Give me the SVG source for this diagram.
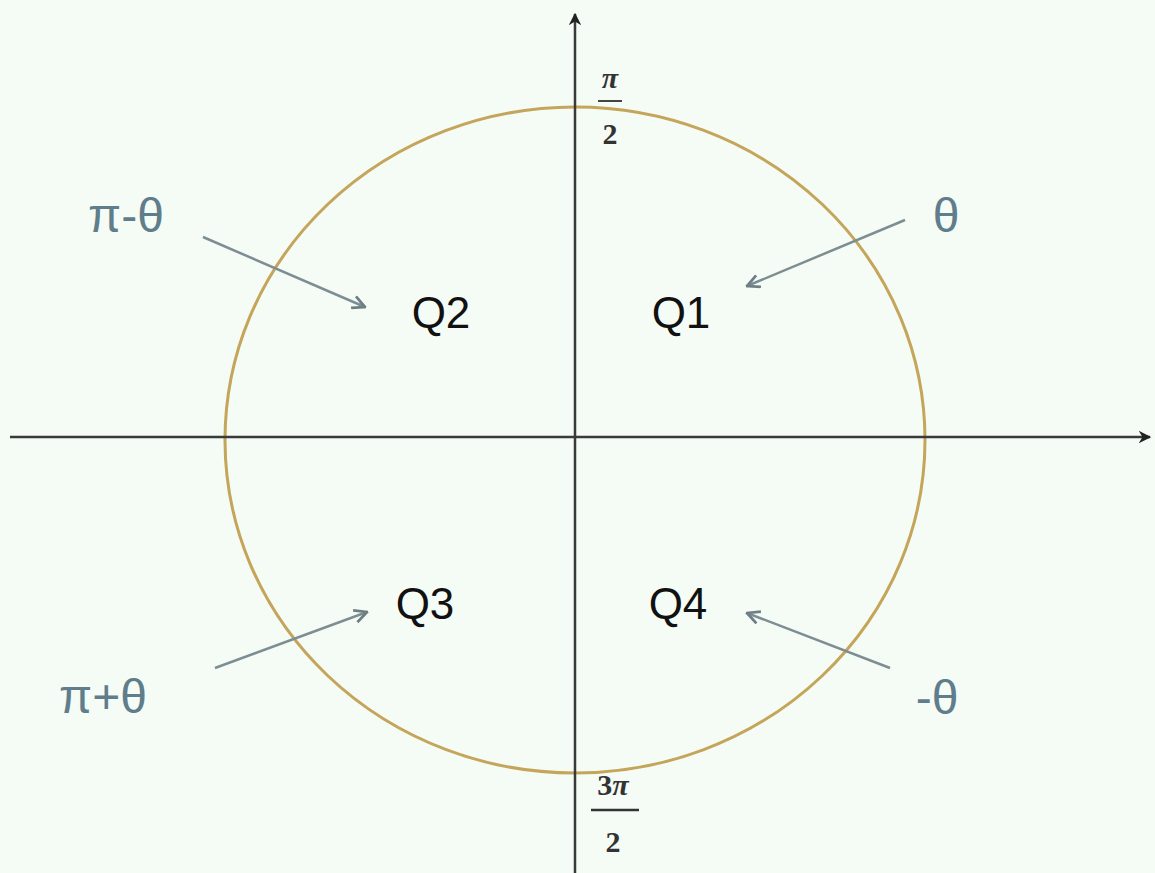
<svg xmlns="http://www.w3.org/2000/svg" width="1155" height="873" viewBox="0 0 1155 873">
<defs>
<style>
.q{font-family:"Liberation Sans",Arial,sans-serif;font-size:44px;fill:#111;text-anchor:middle}
.lab{font-family:"Liberation Sans",Arial,sans-serif;font-size:48px;fill:#5f7d8a;text-anchor:middle}
.frac{font-family:"Liberation Serif","Times New Roman",serif;font-size:30px;fill:#333;text-anchor:middle;font-weight:bold}
.pi{font-style:italic}
.axis{stroke:#3a3a3a;stroke-width:2.5;fill:none}
.ptr{stroke:#7d8e92;stroke-width:2.5;fill:none;marker-end:url(#ah)}
</style>
<marker id="ah" viewBox="0 0 12 12" refX="11" refY="6" markerWidth="6" markerHeight="6" orient="auto" markerUnits="strokeWidth">
<path d="M1,1 L11,6 L1,11" fill="none" stroke="#6d7f84" stroke-width="2.2"/>
</marker>
<marker id="ax" viewBox="0 0 10 10" refX="9" refY="5" markerWidth="5" markerHeight="5" orient="auto" markerUnits="strokeWidth">
<path d="M0,0 L10,5 L0,10 L3,5 z" fill="#222"/>
</marker>
</defs>
<rect width="1155" height="873" fill="#f5fbf5"/>
<g id="circle">
<ellipse cx="575" cy="440" rx="350" ry="333" fill="none" stroke="#c4a55a" stroke-width="3"/>
</g>
<g id="axes">
<line class="axis" x1="10" y1="437" x2="1150" y2="437" marker-end="url(#ax)"/>
<line class="axis" x1="575" y1="873" x2="575" y2="14" marker-end="url(#ax)"/>
</g>
<g id="connectors">
<line class="ptr" x1="203" y1="237" x2="365" y2="307"/>
<line class="ptr" x1="905" y1="220" x2="747" y2="286"/>
<line class="ptr" x1="215" y1="668" x2="367" y2="612"/>
<line class="ptr" x1="890" y1="668" x2="747" y2="613"/>
</g>
<g id="q1"><text class="q" x="681" y="328">Q1</text></g>
<g id="q2"><text class="q" x="441" y="328">Q2</text></g>
<g id="q3"><text class="q" x="425" y="619">Q3</text></g>
<g id="q4"><text class="q" x="678" y="619">Q4</text></g>
<g id="l-pi-minus"><text class="lab" x="126" y="232">π-θ</text></g>
<g id="l-theta"><text class="lab" x="946" y="232">θ</text></g>
<g id="l-pi-plus"><text class="lab" x="103" y="713">π+θ</text></g>
<g id="l-neg-theta"><text class="lab" x="937" y="714">-θ</text></g>
<g id="top-frac">
<text class="frac pi" x="610" y="88">π</text>
<line x1="598" y1="101" x2="622" y2="101" stroke="#444" stroke-width="2"/>
<text class="frac" x="610" y="144">2</text>
</g>
<g id="bottom-frac">
<text class="frac" x="613" y="795">3<tspan class="pi">π</tspan></text>
<line x1="591" y1="810" x2="639" y2="810" stroke="#333" stroke-width="2.5"/>
<text class="frac" x="613" y="852">2</text>
</g>
</svg>
